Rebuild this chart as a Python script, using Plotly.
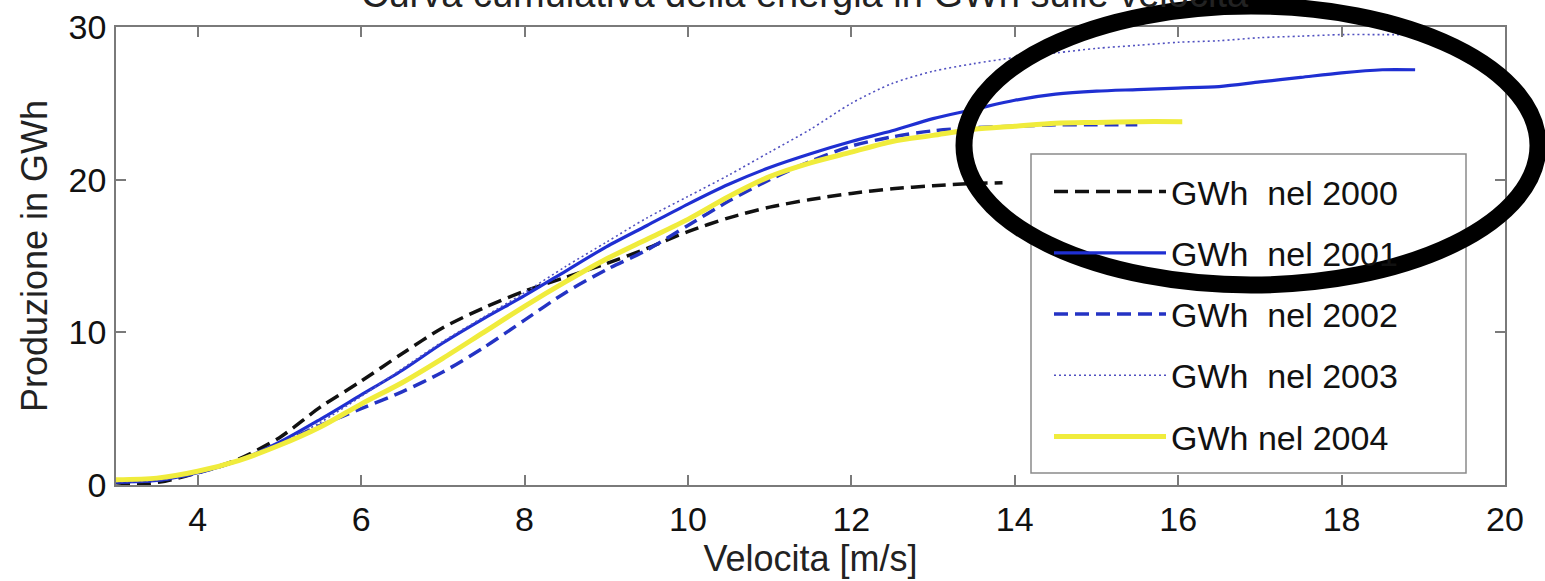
import plotly.graph_objects as go

# ---------------- data ----------------
x_2000 = [3.0, 3.3, 3.6, 4.0, 4.5, 5.0, 5.5, 6.0, 6.5, 7.0, 7.5, 8.0, 8.5, 9.0, 9.5,
          10.0, 10.5, 11.0, 11.5, 12.0, 12.5, 13.0, 13.5, 13.85]
y_2000 = [0.15, 0.05, 0.25, 0.8, 1.7, 3.1, 5.1, 6.8, 8.6, 10.3, 11.6, 12.7, 13.6, 14.5, 15.5,
          16.6, 17.5, 18.2, 18.7, 19.1, 19.4, 19.6, 19.75, 19.8]

x_2001 = [3.0, 3.5, 4.0, 4.5, 5.0, 5.5, 6.0, 6.5, 7.0, 7.5, 8.0, 8.5, 9.0, 9.5, 10.0,
          10.5, 11.0, 11.5, 12.0, 12.5, 13.0, 13.5, 14.0, 14.5, 15.0, 15.5, 16.0, 16.5,
          17.0, 17.5, 18.0, 18.5, 18.9]
y_2001 = [0.2, 0.3, 0.8, 1.6, 2.8, 4.3, 5.9, 7.5, 9.3, 10.9, 12.4, 14.0, 15.6, 17.0, 18.4,
          19.7, 20.8, 21.7, 22.5, 23.2, 24.0, 24.6, 25.2, 25.6, 25.8, 25.9, 26.0, 26.1,
          26.4, 26.7, 27.0, 27.2, 27.2]

x_2002 = [3.0, 3.5, 4.0, 4.5, 5.0, 5.5, 6.0, 6.5, 7.0, 7.5, 8.0, 8.5, 9.0, 9.5, 10.0,
          10.5, 11.0, 11.5, 12.0, 12.5, 13.0, 13.5, 14.0, 14.5, 15.0, 15.5]
y_2002 = [0.2, 0.3, 0.8, 1.6, 2.7, 3.9, 5.0, 6.1, 7.4, 9.0, 10.8, 12.6, 14.1, 15.4, 17.0,
          18.6, 20.0, 21.2, 22.2, 22.8, 23.2, 23.4, 23.5, 23.6, 23.6, 23.6]

x_2003 = [3.0, 3.5, 4.0, 4.5, 5.0, 5.5, 6.0, 6.5, 7.0, 7.5, 8.0, 8.5, 9.0, 9.5, 10.0,
          10.5, 11.0, 11.5, 12.0, 12.5, 13.0, 13.5, 14.0, 14.5, 15.0, 15.5, 16.0, 16.5,
          17.0, 17.5, 18.0, 18.5, 18.75]
y_2003 = [0.2, 0.3, 0.8, 1.6, 2.7, 4.1, 5.8, 7.6, 9.4, 11.0, 12.6, 14.3, 15.9, 17.5, 18.9,
          20.3, 21.8, 23.3, 25.0, 26.3, 27.1, 27.6, 28.0, 28.3, 28.6, 28.8, 29.0, 29.1,
          29.3, 29.4, 29.5, 29.5, 29.5]

x_2004 = [3.0, 3.5, 4.0, 4.5, 5.0, 5.5, 6.0, 6.5, 7.0, 7.5, 8.0, 8.5, 9.0, 9.5, 10.0,
          10.5, 11.0, 11.5, 12.0, 12.5, 13.0, 13.5, 14.0, 14.5, 15.0, 15.5, 16.05]
y_2004 = [0.35, 0.45, 0.9, 1.6, 2.6, 3.8, 5.3, 6.7, 8.3, 10.0, 11.7, 13.3, 14.8, 16.1, 17.4,
          18.9, 20.2, 21.1, 21.8, 22.5, 22.9, 23.3, 23.5, 23.7, 23.75, 23.8, 23.8]

names = ["GWh\u00a0 nel 2000", "GWh\u00a0 nel 2001", "GWh\u00a0 nel 2002",
         "GWh\u00a0 nel 2003", "GWh nel 2004"]

x_ticks = [4, 6, 8, 10, 12, 14, 16, 18, 20]
y_ticks = [0, 10, 20, 30]

title_text = "Curva cumulativa della energia in GWh sulle velocita"
x_title = "Velocita [m/s]"
y_title = "Produzione in GWh"

# ---------------- figure ----------------
W, H = 1545, 581
OFF = 0  # body margin removed by the post script below
PL, PR, PT, PB = 116, 1505, 27, 485
FONT = "Liberation Sans, Arial, sans-serif"

styles = [
    dict(color="#111111", width=3.5, dash="14px,7px"),
    dict(color="#1f2fd2", width=3.2, dash="solid"),
    dict(color="#2433c4", width=3.5, dash="14px,7px"),
    dict(color="#5050c0", width=1.6, dash="2px,3px"),
    dict(color="#f0ec3c", width=5, dash="solid"),
]

series = [(x_2000, y_2000), (x_2001, y_2001), (x_2002, y_2002),
          (x_2003, y_2003), (x_2004, y_2004)]

fig = go.Figure()
for i, ((xs, ys), nm, st) in enumerate(zip(series, names, styles)):
    fig.add_trace(go.Scatter(x=xs, y=ys, mode="lines", name=nm,
                             line=dict(shape="spline", smoothing=0.8, **st),
                             legendgroup=f"g{i}", hoverinfo="skip"))

pw = PR - PL
ph = PB - PT


def px_x(p):
    return (p - PL) / pw


def px_y(p):
    return (PB - p) / ph


axis_common = dict(showgrid=False, zeroline=False, showline=True, linecolor="#7a7a7a",
                   linewidth=1.5, mirror="ticks", ticks="inside", ticklen=10,
                   tickcolor="#7a7a7a", tickwidth=1.5, automargin=False,
                   ticklabeloverflow="allow",
                   tickfont=dict(family=FONT, size=34, color="#111111"))

fig.update_layout(
    width=W, height=H,
    margin=dict(l=PL - OFF, r=W + OFF - PR, t=PT - OFF, b=H + OFF - PB, pad=0),
    paper_bgcolor="white", plot_bgcolor="white",
    xaxis=dict(range=[3, 20], tickvals=x_ticks, ticklabelstandoff=3,
               title=dict(text=x_title, font=dict(family=FONT, size=36, color="#222222"),
                          standoff=4),
               **axis_common),
    yaxis=dict(range=[0, 30], tickvals=y_ticks, ticklabelstandoff=1,
               title=dict(text=y_title, font=dict(family=FONT, size=36, color="#222222"),
                          standoff=10),
               **axis_common),
    legend=dict(x=px_x(1049), y=px_y(163), xanchor="left", yanchor="top",
                bgcolor="rgba(0,0,0,0)", borderwidth=0,
                font=dict(family=FONT, size=34, color="#111111"),
                itemwidth=112, traceorder="grouped", tracegroupgap=14),
    showlegend=True,
)

# title, mostly cut off by the top edge as in the reference
fig.add_annotation(text=title_text, xref="paper", yref="paper", x=px_x(805), y=px_y(-6),
                   xanchor="center", yanchor="middle", showarrow=False,
                   font=dict(family=FONT, size=38, color="#222222"))

# legend box (drawn as a shape so the hand-drawn ellipse can sit above it)
fig.add_shape(type="rect", xref="paper", yref="paper",
              x0=px_x(1031), x1=px_x(1466), y0=px_y(473), y1=px_y(154),
              line=dict(color="#8a8a8a", width=1.5), fillcolor="white", layer="above")

# black hand-drawn ellipse highlight
fig.add_shape(type="circle", xref="paper", yref="paper",
              x0=px_x(964), x1=px_x(1538), y0=px_y(285), y1=px_y(6),
              line=dict(color="black", width=17), layer="above")

fig.write_html("out.html", config={"displayModeBar": False},
               post_script="document.body.style.margin='0';")
